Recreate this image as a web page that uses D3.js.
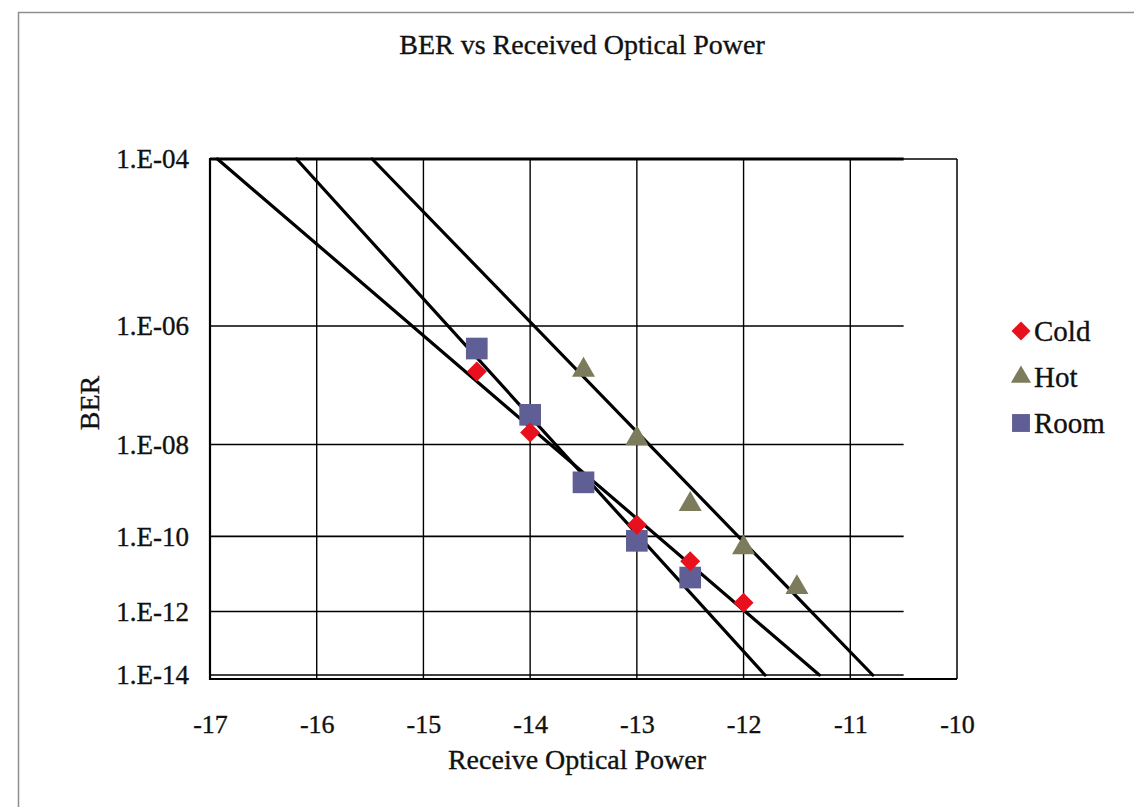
<!DOCTYPE html>
<html>
<head>
<meta charset="utf-8">
<script src="https://cdn.jsdelivr.net/npm/d3@7"></script>
<style>
  html, body { margin: 0; padding: 0; background: #ffffff; }
  svg { display: block; }
  text { font-family: "Liberation Serif", "Times New Roman", serif; fill: #111; stroke: #111; stroke-width: 0.35px; }
</style>
</head>
<body>
<svg id="chart" width="1134" height="807"></svg>
<script>
// ---------------- data ----------------
const chartTitle = "BER vs Received Optical Power";
const xAxisTitle = "Receive Optical Power";
const yAxisTitle = "BER";

const xTicks = [-17, -16, -15, -14, -13, -12, -11, -10];
const yTickValues = [1e-4, 1e-6, 1e-8, 1e-10, 1e-12, 1e-14];
const yTickLabels = ["1.E-04", "1.E-06", "1.E-08", "1.E-10", "1.E-12", "1.E-14"];

const seriesNames = ["Cold", "Hot", "Room"];

const coldPower = [-14.5, -14, -13, -12.5, -12];
const coldBER   = [2.0e-7, 1.7e-8, 1.9e-10, 2.4e-11, 1.8e-12];

const hotPower = [-13.5, -13, -12.5, -12, -11.5];
const hotBER   = [2.1e-7, 1.3e-8, 5.6e-10, 5.3e-11, 4.8e-12];

const roomPower = [-14.5, -14, -13.5, -13, -12.5];
const roomBER   = [4.6e-7, 3.6e-8, 1.7e-9, 7.8e-11, 8.9e-12];

// trend lines: [power, BER] end points
const coldFit = [[-16.93, 1e-4], [-11.29, 1e-14]];
const roomFit = [[-16.19, 1e-4], [-11.80, 1e-14]];
const hotFit  = [[-15.48, 1e-4], [-10.79, 1e-14]];

// ---------------- layout ----------------
const svg = d3.select("#chart");
const W = 1134, H = 807;
const plot = { left: 210, right: 957, top: 159, bottom: 675 };
const colors = { Cold: "#e8101c", Hot: "#7c7c5c", Room: "#5f5f96" };

const x = d3.scaleLinear().domain([-17, -10]).range([plot.left, plot.right]);
// BER axis: logarithmic in the exponent magnitude (-log10 BER)
const yExp = d3.scaleLog().domain([4, 14]).range([plot.top, plot.bottom]);
const y = ber => yExp(-Math.log10(ber));

// chart area frame (grey)
svg.append("path")
  .attr("d", `M18.5,${H} L18.5,12.5 L${W},12.5`)
  .attr("fill", "none").attr("stroke", "#8e8e8e").attr("stroke-width", 1.5);

// plot frame (right and bottom border, full extent)
const bottomAxisY = plot.bottom + 4;
svg.append("line")
  .attr("x1", x(-10)).attr("x2", x(-10)).attr("y1", plot.top).attr("y2", bottomAxisY)
  .attr("stroke", "#000").attr("stroke-width", 1.5);
svg.append("line")
  .attr("x1", x(-17)).attr("x2", x(-10)).attr("y1", plot.top).attr("y2", plot.top)
  .attr("stroke", "#000").attr("stroke-width", 1.3);
svg.append("line")
  .attr("x1", x(-17)).attr("x2", x(-10)).attr("y1", bottomAxisY).attr("y2", bottomAxisY)
  .attr("stroke", "#000").attr("stroke-width", 2);

// vertical gridlines
svg.append("g").selectAll("line")
  .data(xTicks.filter(v => v > -17 && v < -10))
  .join("line")
  .attr("x1", d => x(d)).attr("x2", d => x(d))
  .attr("y1", plot.top).attr("y2", bottomAxisY)
  .attr("stroke", "#000").attr("stroke-width", 1.4);

// horizontal gridlines (stop at -10.5 as in the original)
svg.append("g").selectAll("line")
  .data(yTickValues)
  .join("line")
  .attr("x1", x(-17)).attr("x2", x(-10.5))
  .attr("y1", d => y(d)).attr("y2", d => y(d))
  .attr("stroke", "#000")
  .attr("stroke-width", (d, i) => i === 0 ? 3 : 1.7);

// left axis line
svg.append("line")
  .attr("x1", x(-17)).attr("x2", x(-17)).attr("y1", plot.top - 1).attr("y2", bottomAxisY + 1)
  .attr("stroke", "#000").attr("stroke-width", 2.2);

// x axis labels
const xAxis = d3.axisBottom(x).tickValues(xTicks).tickSize(0).tickPadding(0)
  .tickFormat(d => d3.format("d")(d).replace("−", "-"));
const gx = svg.append("g").attr("transform", `translate(0,${bottomAxisY})`).call(xAxis);
gx.select(".domain").remove();
gx.selectAll("text").attr("font-size", 26).attr("dy", null).attr("y", 54)
  .attr("font-family", "Liberation Serif").attr("fill", "#111");

// y axis labels
const yAxis = d3.axisLeft(yExp)
  .tickValues(yTickValues.map(v => -Math.log10(v)))
  .tickSize(0).tickPadding(0)
  .tickFormat((d, i) => yTickLabels[i]);
const gy = svg.append("g").attr("transform", `translate(${x(-17) - 21},0)`).call(yAxis);
gy.select(".domain").remove();
gy.selectAll("text").attr("font-size", 27).attr("x", 0).attr("dy", "0.33em")
  .attr("font-family", "Liberation Serif").attr("fill", "#111");

// trend lines
const line = d3.line().x(d => x(d[0])).y(d => y(d[1]));
svg.append("g").selectAll("path")
  .data([coldFit, roomFit, hotFit])
  .join("path")
  .attr("d", line)
  .attr("fill", "none").attr("stroke", "#000").attr("stroke-width", 3.2)
  .attr("stroke-linecap", "round");

// markers
function drawSeries(power, ber, name, sym, size, rotate) {
  svg.append("g").selectAll("path")
    .data(power.map((p, i) => [p, ber[i]]))
    .join("path")
    .attr("d", d3.symbol().type(sym).size(size))
    .attr("transform", d => `translate(${x(d[0])},${y(d[1])}) rotate(${rotate})`)
    .attr("fill", colors[name]);
}
drawSeries(roomPower, roomBER, "Room", d3.symbolSquare, 470, 0);
drawSeries(hotPower, hotBER, "Hot", d3.symbolTriangle, 230, 0);
drawSeries(coldPower, coldBER, "Cold", d3.symbolSquare, 200, 45);

// title
svg.append("text")
  .attr("x", 582).attr("y", 54)
  .attr("text-anchor", "middle").attr("font-size", 28)
  .text(chartTitle);

// axis titles
svg.append("text")
  .attr("x", 577).attr("y", 769)
  .attr("text-anchor", "middle").attr("font-size", 28)
  .text(xAxisTitle);
svg.append("text")
  .attr("transform", "translate(99,403) rotate(-90)")
  .attr("text-anchor", "middle").attr("font-size", 28)
  .text(yAxisTitle);

// legend
const legendItems = [
  { name: "Cold", sym: d3.symbolSquare, size: 180, rot: 45 },
  { name: "Hot",  sym: d3.symbolTriangle, size: 175, rot: 0 },
  { name: "Room", sym: d3.symbolSquare, size: 320, rot: 0 }
];
const legend = svg.append("g").attr("transform", "translate(1021,331)");
const li = legend.selectAll("g").data(legendItems).join("g")
  .attr("transform", (d, i) => `translate(0,${i * 46})`);
li.append("path")
  .attr("d", d => d3.symbol().type(d.sym).size(d.size)())
  .attr("transform", d => `rotate(${d.rot})`)
  .attr("fill", d => colors[d.name]);
li.append("text")
  .attr("x", 13).attr("y", 10)
  .attr("font-size", 29)
  .text(d => d.name);
</script>
</body>
</html>
